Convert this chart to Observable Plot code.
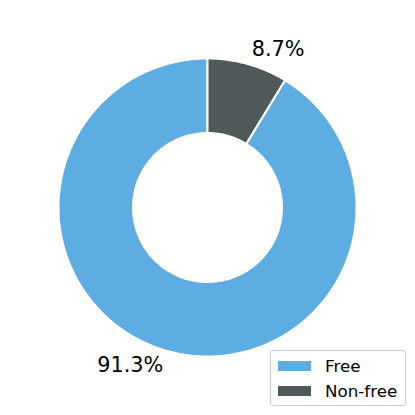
<!DOCTYPE html>
<html><head><meta charset="utf-8">
<script src="https://cdn.jsdelivr.net/npm/d3@7"></script>
<script src="https://cdn.jsdelivr.net/npm/@observablehq/plot@0.6"></script>
<style>
body{margin:0;background:#fff;font-family:"DejaVu Sans",sans-serif;}
#wrap{position:relative;width:415px;height:415px;}
#legend{position:absolute;left:270px;top:350px;width:134px;height:54px;border:1.1px solid #cccccc;border-radius:3px;background:rgba(255,255,255,0.8);}
.item{position:absolute;left:7px;height:20px;}
.sw{position:absolute;left:0;width:33px;height:10px;}
.lab{position:absolute;left:47px;font-size:16.7px;line-height:20px;white-space:nowrap;color:#000;}
</style>
</head><body><div id="wrap"></div>
<script>
const categories = ["Free", "Non-free"];
const values = [91.3, 8.7];
const colors = ["#5DADE2", "#515A5A"];
const labels = ["91.3%", "8.7%"];

const R = 1, INNER = 0.5, LABEL_R = 1.1;
const pie = d3.pie().sort(null).value(d => d).startAngle(0).endAngle(-2 * Math.PI);
const arcs = pie(values);

const poly = [];
const labelData = [];
arcs.forEach((a, i) => {
  const cat = categories[i];
  const da = a.endAngle - a.startAngle;
  const n = Math.max(2, Math.ceil(Math.abs(da) / (Math.PI / 180)));
  const pts = [];
  for (let k = 0; k <= n; k++) {
    const t = a.startAngle + da * k / n;
    pts.push({cat, x: R * Math.sin(t), y: R * Math.cos(t)});
  }
  for (let k = n; k >= 0; k--) {
    const t = a.startAngle + da * k / n;
    pts.push({cat, x: INNER * Math.sin(t), y: INNER * Math.cos(t)});
  }
  pts.push({...pts[0]});
  poly.push(...pts);
  const mid = (a.startAngle + a.endAngle) / 2;
  labelData.push({text: labels[i], x: LABEL_R * Math.sin(mid), y: LABEL_R * Math.cos(mid)});
});

const S = 149;
const chart = Plot.plot({
  width: 415, height: 415,
  margin: 0,
  x: {domain: [-207 / S, 208 / S], axis: null},
  y: {domain: [-208 / S, 207 / S], axis: null},
  color: {domain: categories, range: colors},
  style: {background: "white", fontFamily: "DejaVu Sans, sans-serif"},
  marks: [
    Plot.line(poly, {x: "x", y: "y", z: "cat", fill: "cat", stroke: "white", strokeWidth: 2, curve: "linear"}),
    Plot.text(labelData.filter(d => d.x >= 0), {x: "x", y: "y", text: "text", textAnchor: "start", fontSize: 20.8, fill: "black"}),
    Plot.text(labelData.filter(d => d.x < 0), {x: "x", y: "y", text: "text", textAnchor: "end", fontSize: 20.8, fill: "black"})
  ]
});
const wrap = document.getElementById("wrap");
wrap.appendChild(chart);

const legend = document.createElement("div");
legend.id = "legend";
categories.forEach((c, i) => {
  const item = document.createElement("div");
  item.className = "item";
  item.style.top = (5 + i * 25) + "px";
  const sw = document.createElement("div");
  sw.className = "sw";
  sw.style.top = "5px";
  sw.style.background = colors[i];
  const lab = document.createElement("div");
  lab.className = "lab";
  lab.style.top = "0px";
  lab.textContent = c;
  item.appendChild(sw); item.appendChild(lab);
  legend.appendChild(item);
});
wrap.appendChild(legend);
</script>
</body></html>
